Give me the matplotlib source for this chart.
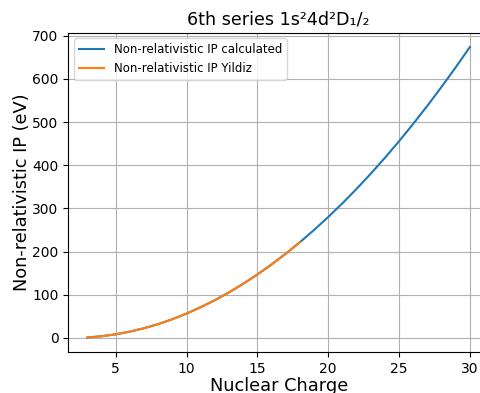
import matplotlib
matplotlib.use("Agg")
import matplotlib.pyplot as plt

Z_calc = [3, 4, 5, 6, 7, 8, 9, 10, 11, 12, 13, 14, 15, 16, 17, 18, 19, 20,
          21, 22, 23, 24, 25, 26, 27, 28, 29, 30]
IP_calc = [1.12, 3.93, 8.44, 14.65, 22.55, 32.16, 43.47, 56.49, 71.20, 87.61,
           105.72, 125.54, 147.05, 170.27, 195.19, 221.80, 250.12, 280.14,
           311.86, 345.28, 380.40, 417.22, 455.75, 495.97, 537.90, 581.52,
           626.85, 673.88]
Z_yildiz = [3, 4, 5, 6, 7, 8, 9, 10, 11, 12, 13, 14, 15, 16, 17, 18]
IP_yildiz = [1.12, 3.93, 8.44, 14.65, 22.55, 32.16, 43.47, 56.49, 71.20, 87.61,
             105.72, 125.54, 147.05, 170.27, 195.19, 221.80]

fig = plt.figure(figsize=(4.81, 3.93), dpi=100)
W, H = 481, 393
left, right, top, bottom = 68.3, 489.0, 32.5, 352.0
ax = fig.add_axes([left / W, (H - bottom) / H, (right - left) / W, (bottom - top) / H])

ax.plot(Z_calc, IP_calc, color="#1f77b4", label="Non-relativistic IP calculated")
ax.plot(Z_yildiz, IP_yildiz, color="#ff7f0e", label="Non-relativistic IP Yildiz")
ax.grid(True)
ax.set_yticks([0, 100, 200, 300, 400, 500, 600, 700])
ax.set_xticks([5, 10, 15, 20, 25, 30])
ax.set_title("6th series 1s\u00b24d\u00b2D\u2081/\u2082", fontsize=12.6)
ax.set_xlabel("Nuclear Charge", fontsize=12.8, labelpad=0.8)
ax.set_ylabel("Non-relativistic IP (eV)", fontsize=12.8, labelpad=1.2)
ax.legend(loc="upper left", fontsize=8.5, handlelength=2.15)

fig.savefig("out.png", dpi=100)
